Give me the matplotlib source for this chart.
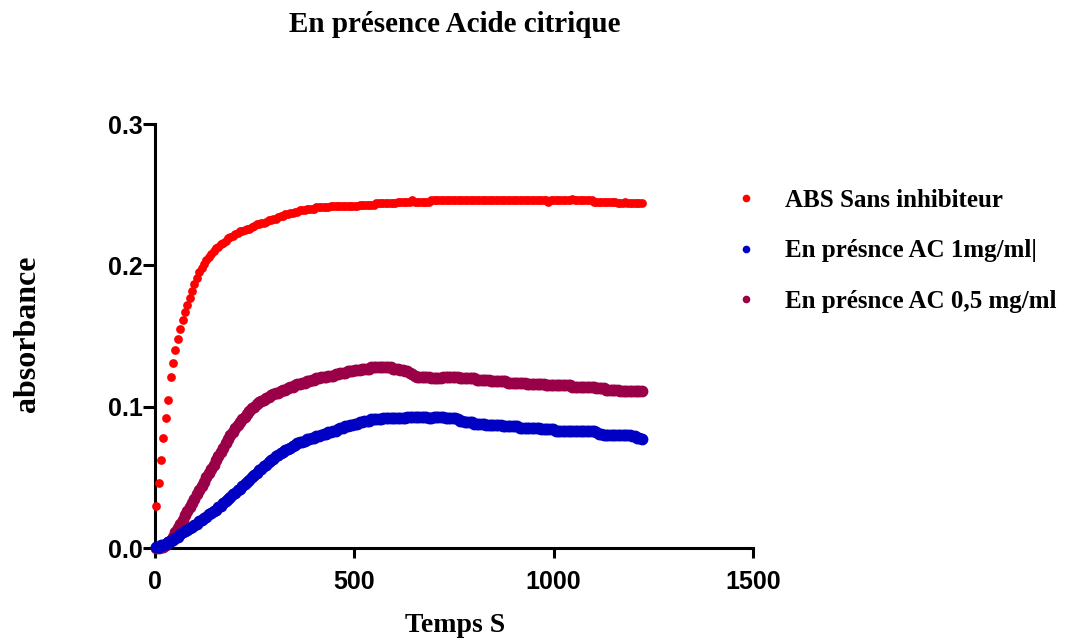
"""
Absorbance kinetics in presence of citric acid (Prism-style dot plot).
Writes out.png
"""

import matplotlib
matplotlib.use("Agg")
import matplotlib.pyplot as plt
import numpy as np

# ── Data (one reading every 6 s starting at t = 3 s) ──
T_START = 3
T_STEP = 6

abs_sans = [
    0.030, 0.046, 0.062, 0.078, 0.092, 0.105, 0.121, 0.131, 0.140, 0.148,
    0.155, 0.161, 0.167, 0.172, 0.177, 0.182, 0.187, 0.191, 0.195, 0.198,
    0.201, 0.204, 0.206, 0.208, 0.210, 0.212, 0.213, 0.215, 0.216, 0.217,
    0.219, 0.220, 0.221, 0.222, 0.223, 0.224, 0.224, 0.225, 0.226, 0.226,
    0.227, 0.228, 0.229, 0.229, 0.230, 0.230, 0.231, 0.232, 0.232, 0.233,
    0.233, 0.234, 0.235, 0.235, 0.236, 0.236, 0.237, 0.237, 0.238, 0.238,
    0.239, 0.239, 0.239, 0.240, 0.240, 0.240, 0.240, 0.241, 0.241, 0.241,
    0.241, 0.241, 0.241, 0.242, 0.242, 0.242, 0.242, 0.242, 0.242, 0.242,
    0.242, 0.242, 0.242, 0.242, 0.242, 0.243, 0.243, 0.243, 0.243, 0.243,
    0.243, 0.243, 0.244, 0.244, 0.244, 0.244, 0.244, 0.244, 0.244, 0.244,
    0.244, 0.245, 0.245, 0.245, 0.245, 0.245, 0.245, 0.246, 0.245, 0.245,
    0.245, 0.245, 0.245, 0.245, 0.245, 0.246, 0.246, 0.246, 0.246, 0.246,
    0.246, 0.246, 0.246, 0.246, 0.246, 0.246, 0.246, 0.246, 0.246, 0.246,
    0.246, 0.246, 0.246, 0.246, 0.246, 0.246, 0.246, 0.246, 0.246, 0.246,
    0.246, 0.246, 0.246, 0.246, 0.246, 0.246, 0.246, 0.246, 0.246, 0.246,
    0.246, 0.246, 0.246, 0.246, 0.246, 0.246, 0.246, 0.246, 0.246, 0.246,
    0.246, 0.246, 0.246, 0.246, 0.245, 0.246, 0.246, 0.246, 0.246, 0.246,
    0.246, 0.246, 0.246, 0.246, 0.247, 0.246, 0.246, 0.246, 0.246, 0.246,
    0.246, 0.246, 0.246, 0.245, 0.245, 0.245, 0.245, 0.245, 0.245, 0.245,
    0.245, 0.245, 0.245, 0.244, 0.244, 0.244, 0.245, 0.244, 0.244, 0.244,
    0.244, 0.244, 0.244, 0.244,
]

ac_1mg = [
    0.001, 0.001, 0.002, 0.002, 0.003, 0.004, 0.005, 0.006, 0.007, 0.008,
    0.010, 0.011, 0.012, 0.013, 0.014, 0.015, 0.016, 0.017, 0.019, 0.020,
    0.021, 0.022, 0.024, 0.025, 0.026, 0.027, 0.029, 0.030, 0.032, 0.033,
    0.035, 0.036, 0.038, 0.039, 0.041, 0.042, 0.044, 0.045, 0.047, 0.048,
    0.050, 0.052, 0.053, 0.055, 0.056, 0.058, 0.059, 0.061, 0.062, 0.063,
    0.065, 0.066, 0.067, 0.068, 0.069, 0.070, 0.071, 0.072, 0.073, 0.074,
    0.075, 0.075, 0.076, 0.077, 0.077, 0.078, 0.078, 0.079, 0.079, 0.080,
    0.081, 0.081, 0.082, 0.082, 0.083, 0.083, 0.084, 0.085, 0.085, 0.086,
    0.086, 0.087, 0.087, 0.088, 0.088, 0.089, 0.089, 0.090, 0.090, 0.090,
    0.091, 0.091, 0.091, 0.091, 0.091, 0.092, 0.092, 0.092, 0.092, 0.092,
    0.092, 0.092, 0.092, 0.092, 0.092, 0.093, 0.093, 0.093, 0.093, 0.093,
    0.093, 0.093, 0.093, 0.093, 0.092, 0.092, 0.093, 0.093, 0.093, 0.093,
    0.093, 0.092, 0.092, 0.092, 0.092, 0.092, 0.091, 0.090, 0.090, 0.089,
    0.089, 0.089, 0.089, 0.088, 0.088, 0.088, 0.088, 0.088, 0.087, 0.087,
    0.087, 0.087, 0.087, 0.087, 0.087, 0.086, 0.086, 0.086, 0.086, 0.086,
    0.086, 0.086, 0.085, 0.085, 0.085, 0.085, 0.085, 0.085, 0.085, 0.085,
    0.085, 0.084, 0.084, 0.084, 0.084, 0.084, 0.084, 0.083, 0.083, 0.083,
    0.083, 0.083, 0.083, 0.083, 0.083, 0.083, 0.083, 0.083, 0.083, 0.083,
    0.083, 0.083, 0.083, 0.083, 0.082, 0.081, 0.081, 0.080, 0.080, 0.080,
    0.080, 0.080, 0.080, 0.080, 0.080, 0.080, 0.080, 0.080, 0.080, 0.079,
    0.079, 0.078, 0.078, 0.077,
]

ac_05mg = [
    0.000, 0.000, 0.001, 0.001, 0.002, 0.004, 0.006, 0.008, 0.011, 0.014,
    0.017, 0.020, 0.023, 0.026, 0.029, 0.032, 0.035, 0.038, 0.041, 0.044,
    0.047, 0.050, 0.053, 0.056, 0.059, 0.062, 0.065, 0.068, 0.071, 0.074,
    0.077, 0.080, 0.082, 0.085, 0.087, 0.089, 0.091, 0.093, 0.095, 0.097,
    0.099, 0.100, 0.102, 0.103, 0.104, 0.105, 0.106, 0.107, 0.108, 0.109,
    0.110, 0.110, 0.111, 0.112, 0.112, 0.113, 0.114, 0.114, 0.115, 0.116,
    0.116, 0.117, 0.117, 0.118, 0.118, 0.119, 0.119, 0.120, 0.120, 0.121,
    0.121, 0.121, 0.122, 0.122, 0.122, 0.123, 0.123, 0.124, 0.124, 0.124,
    0.125, 0.125, 0.125, 0.126, 0.126, 0.126, 0.127, 0.127, 0.127, 0.127,
    0.128, 0.128, 0.128, 0.128, 0.128, 0.128, 0.128, 0.128, 0.128, 0.127,
    0.127, 0.127, 0.126, 0.126, 0.125, 0.125, 0.124, 0.123, 0.122, 0.121,
    0.121, 0.121, 0.121, 0.121, 0.121, 0.120, 0.120, 0.120, 0.120, 0.120,
    0.121, 0.121, 0.121, 0.121, 0.121, 0.121, 0.121, 0.120, 0.120, 0.120,
    0.120, 0.120, 0.120, 0.120, 0.119, 0.119, 0.119, 0.119, 0.119, 0.119,
    0.118, 0.118, 0.118, 0.118, 0.118, 0.118, 0.118, 0.117, 0.117, 0.117,
    0.117, 0.117, 0.117, 0.117, 0.117, 0.116, 0.116, 0.116, 0.116, 0.116,
    0.116, 0.116, 0.116, 0.115, 0.115, 0.115, 0.115, 0.115, 0.115, 0.115,
    0.115, 0.115, 0.115, 0.115, 0.114, 0.114, 0.114, 0.114, 0.114, 0.114,
    0.114, 0.114, 0.114, 0.114, 0.113, 0.113, 0.113, 0.113, 0.112, 0.112,
    0.112, 0.112, 0.112, 0.112, 0.111, 0.111, 0.111, 0.111, 0.111, 0.111,
    0.111, 0.111, 0.111, 0.111,
]

labels = ["ABS Sans inhibiteur", "En présnce AC 1mg/ml|", "En présnce AC 0,5 mg/ml"]
colors = ["#FF0000", "#0000C4", "#9A0048"]

x_ticks = [0, 500, 1000, 1500]
y_ticks = [0.0, 0.1, 0.2, 0.3]

SERIF = "Liberation Serif"
SANS = "Liberation Sans"


def times(values):
    return T_START + T_STEP * np.arange(len(values))


def main() -> None:
    fig = plt.figure(figsize=(10.70, 6.42), dpi=100)
    ax = fig.add_axes([155 / 1070, 94 / 642, 598 / 1070, 424 / 642])

    # draw order: red, purple, blue (blue sits on top near the origin)
    h_red = ax.plot(times(abs_sans), abs_sans, "o", color=colors[0], ms=6.3,
                    mew=0, clip_on=False, zorder=3)[0]
    h_pur = ax.plot(times(ac_05mg), ac_05mg, "o", color=colors[2], ms=8.5,
                    mew=0, clip_on=False, zorder=3)[0]
    h_blu = ax.plot(times(ac_1mg), ac_1mg, "o", color=colors[1], ms=8.5,
                    mew=0, clip_on=False, zorder=4)[0]

    ax.set_xlim(0, 1500)
    ax.set_ylim(0, 0.3)
    ax.set_xticks(x_ticks)
    ax.set_yticks(y_ticks)
    ax.set_xticklabels([str(v) for v in x_ticks])
    ax.set_yticklabels([f"{v:.1f}" for v in y_ticks])

    for side in ("top", "right"):
        ax.spines[side].set_visible(False)
    for side in ("left", "bottom"):
        ax.spines[side].set_linewidth(2.2)
    ax.tick_params(axis="both", width=2.2, direction="out")
    ax.tick_params(axis="x", length=7.5, pad=8)
    ax.tick_params(axis="y", length=8.5, pad=0)
    for lab in ax.get_xticklabels() + ax.get_yticklabels():
        lab.set_fontfamily(SANS)
        lab.set_fontweight("bold")
        lab.set_fontsize(18)

    fig.text(455 / 1070, 1 - 25 / 642, "En présence Acide citrique",
             ha="center", va="center", family=SERIF, weight="bold", fontsize=21)
    fig.text(455 / 1070, 1 - 626 / 642, "Temps S",
             ha="center", va="center", family=SERIF, weight="bold", fontsize=20)
    fig.text(28 / 1070, 1 - 334 / 642, "absorbance", rotation=90,
             ha="center", va="center", family=SERIF, weight="bold", fontsize=23)

    leg = ax.legend([h_red, h_blu, h_pur], labels,
                    loc="upper left", bbox_to_anchor=(731 / 1070, 1 - 189 / 642),
                    bbox_transform=fig.transFigure, frameon=False,
                    handlelength=1.2, handletextpad=0.95,
                    labelspacing=1.1, borderpad=0, borderaxespad=0,
                    prop={"family": SERIF, "weight": "bold", "size": 18})
    for h in leg.legend_handles:
        h.set_markersize(5.5)

    fig.savefig("out.png", dpi=100)
    plt.close(fig)


if __name__ == "__main__":
    main()
